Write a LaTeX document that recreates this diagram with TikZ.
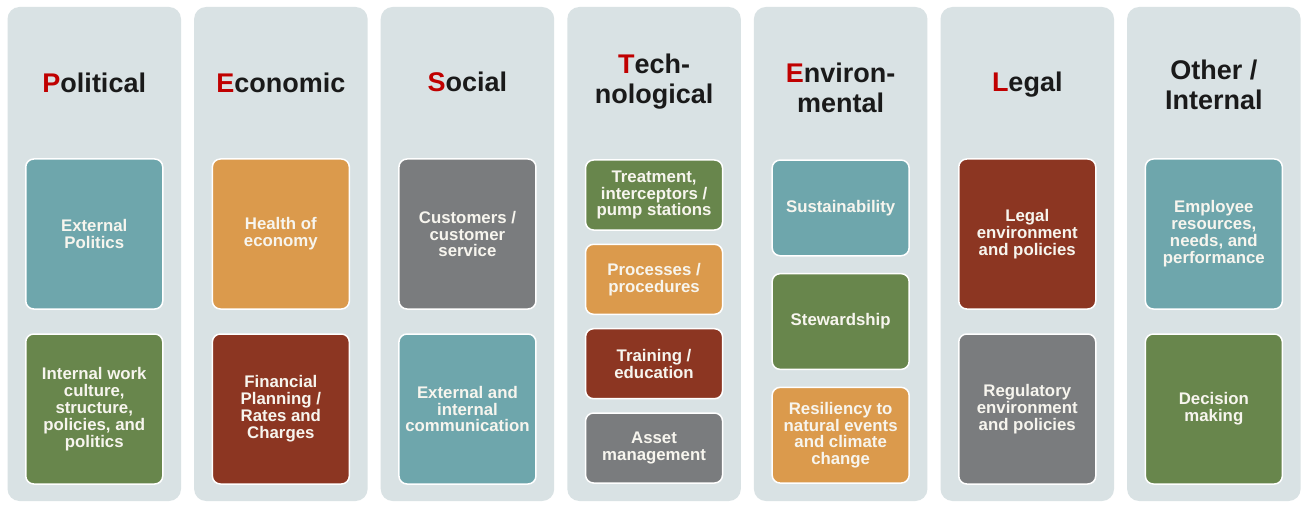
\documentclass[tikz,border=0pt]{standalone}
\usepackage{fontspec}
\setmainfont{Liberation Sans}
\definecolor{colbg}{HTML}{D9E2E4}
\definecolor{cteal}{HTML}{6EA6AC}
\definecolor{corange}{HTML}{DB9A4C}
\definecolor{cgreen}{HTML}{68864C}
\definecolor{cred}{HTML}{8C3622}
\definecolor{cgray}{HTML}{7A7C7E}
\definecolor{titlered}{HTML}{C00000}
\definecolor{titleblack}{HTML}{1A1A1A}
\definecolor{boxtext}{HTML}{F7F5EE}
\newcommand\rl[1]{\textcolor{titlered}{#1}}
\newcommand\titletwo[2]{\vtop{\halign{\hfil##\hfil\cr#1\cr#2\cr}}}
\begin{document}
\begin{tikzpicture}[x=1pt,y=-1pt,
  colbox/.style={fill=colbg, draw=none, rounded corners=12pt, minimum width=173.5pt, minimum height=494pt, inner sep=0pt},
  item/.style={draw=white, line width=1.5pt, rounded corners=8pt, minimum width=137pt, inner sep=1pt,
    text=boxtext, align=center, font=\fontsize{16.8}{16.9}\selectfont\bfseries},
  big/.style={item, minimum height=150pt},
  tech/.style={item, minimum height=70pt},
  env/.style={item, minimum height=95.7pt},
  title/.style={font=\fontsize{27}{29.5}\selectfont\bfseries, text=titleblack, inner sep=0pt, anchor=base}]
\useasboundingbox[fill=white] (0,0) rectangle (1306,505);

% columns
\node[colbox] (c0) at (94.25,254) {};
\node[colbox] (c1) at (280.85,254) {};
\node[colbox] (c2) at (467.45,254) {};
\node[colbox] (c3) at (654.05,254) {};
\node[colbox] (c4) at (840.65,254) {};
\node[colbox] (c5) at (1027.25,254) {};
\node[colbox] (c6) at (1213.85,254) {};

% titles
\node[title] (t0) at (94.25,93) {\rl{P}olitical};
\node[title] (t1) at (280.85,93) {\rl{E}conomic};
\node[title] (t2) at (467.45,92) {\rl{S}ocial};
\node[title] (t3) at (654.05,74) {\titletwo{\rl{T}ech-}{nological}};
\node[title] (t4) at (840.65,83) {\titletwo{\rl{E}nviron-}{mental}};
\node[title] (t5) at (1027.25,92) {\rl{L}egal};
\node[title] (t6) at (1213.85,80) {\titletwo{Other /}{Internal}};

% Political
\node[big, fill=cteal] (p1) at (94.25,234) {External\\Politics};
\node[big, fill=cgreen] (p2) at (94.25,409) {Internal work\\culture,\\structure,\\policies, and\\politics};
% Economic
\node[big, fill=corange] (e1) at (280.85,234) {Health of\\economy};
\node[big, fill=cred] (e2) at (280.85,409) {Financial\\Planning /\\Rates and\\Charges};
% Social
\node[big, fill=cgray] (s1) at (467.45,234) {Customers /\\customer\\service};
\node[big, fill=cteal] (s2) at (467.45,409) {External and\\internal\\communication};
% Technological
\node[tech, fill=cgreen] (k1) at (654.05,195) {Treatment,\\interceptors /\\pump stations};
\node[tech, fill=corange] (k2) at (654.05,279.3) {Processes /\\procedures};
\node[tech, fill=cred] (k3) at (654.05,363.7) {Training /\\education};
\node[tech, fill=cgray] (k4) at (654.05,448) {Asset\\management};
% Environmental
\node[env, fill=cteal] (n1) at (840.65,207.9) {Sustainability};
\node[env, fill=cgreen] (n2) at (840.65,321.5) {Stewardship};
\node[env, fill=corange] (n3) at (840.65,435.2) {Resiliency to\\natural events\\and climate\\change};
% Legal
\node[big, fill=cred] (l1) at (1027.25,234) {Legal\\environment\\and policies};
\node[big, fill=cgray] (l2) at (1027.25,409) {Regulatory\\environment\\and policies};
% Other
\node[big, fill=cteal] (o1) at (1213.85,234) {Employee\\resources,\\needs, and\\performance};
\node[big, fill=cgreen] (o2) at (1213.85,409) {Decision\\making};
\end{tikzpicture}
\end{document}
